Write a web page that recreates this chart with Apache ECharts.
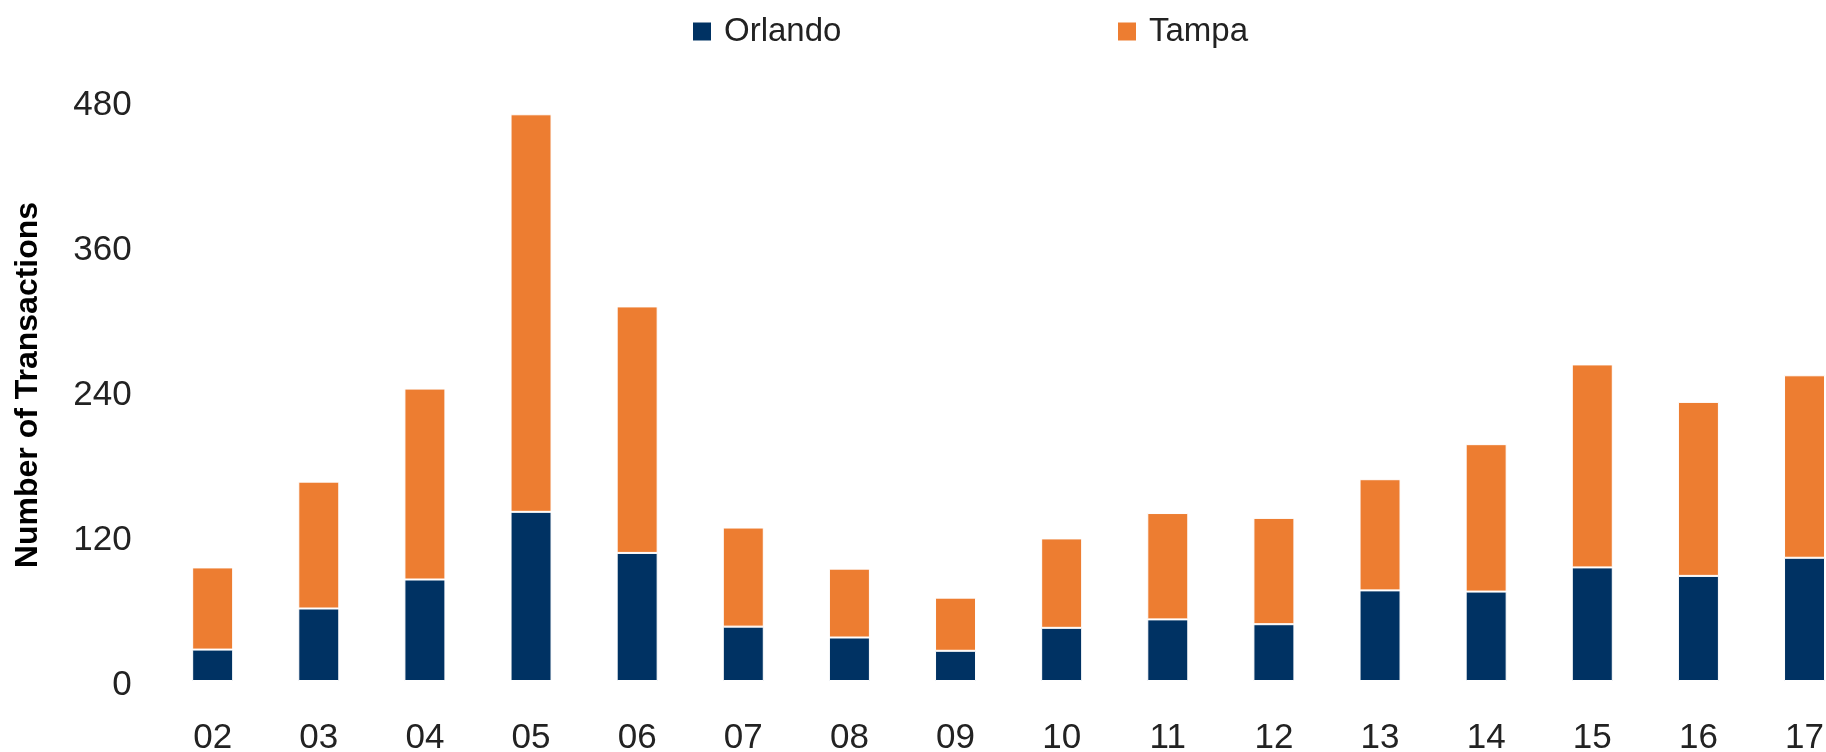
<!DOCTYPE html>
<html>
<head>
<meta charset="utf-8">
<script src="https://cdn.jsdelivr.net/npm/echarts@6/dist/echarts.min.js"></script>
<style>
html,body{margin:0;padding:0;background:#fff;}
#chart{width:1826px;height:752px;}
</style>
</head>
<body>
<div id="chart"></div>
<script>
const categories = ['02','03','04','05','06','07','08','09','10','11','12','13','14','15','16','17'];
const orlando = [26, 60, 84, 140, 106, 45, 36, 25, 44, 51, 47, 75, 74, 94, 87, 102];
const tampa   = [68, 105, 158, 329, 204, 82, 57, 44, 74, 88, 88, 92, 122, 168, 144, 151];
const yTicks = [0, 120, 240, 360, 480];

const FONT = '"Liberation Sans", Arial, Helvetica, sans-serif';
const TEXT = '#222222';
const BLUE = '#003263';
const ORANGE = '#ED7D31';

const chart = echarts.init(document.getElementById('chart'));
chart.setOption({
  animation: false,
  backgroundColor: '#ffffff',
  textStyle: { fontFamily: FONT },
  legend: [
    {
      data: ['Orlando'], left: 691, top: 15, padding: 0,
      icon: 'rect', itemWidth: 20, itemHeight: 20,
      textStyle: { fontSize: 33, color: TEXT, fontFamily: FONT, padding: [0,0,0,7] }
    },
    {
      data: ['Tampa'], left: 1116, top: 15, padding: 0,
      icon: 'rect', itemWidth: 20, itemHeight: 20,
      textStyle: { fontSize: 33, color: TEXT, fontFamily: FONT, padding: [0,0,0,7] }
    }
  ],
  grid: { left: 159.6, width: 1698, top: 101, bottom: 71, containLabel: false, outerBoundsMode: 'none' },
  xAxis: {
    type: 'category',
    data: categories,
    axisLine: { show: false },
    axisTick: { show: false },
    axisLabel: { fontSize: 35, color: TEXT, fontFamily: FONT, margin: 39.5 }
  },
  yAxis: {
    type: 'value',
    min: yTicks[0],
    max: yTicks[yTicks.length - 1],
    interval: yTicks[1] - yTicks[0],
    name: 'Number of Transactions',
    nameLocation: 'middle',
    nameGap: 115.5,
    nameTextStyle: { fontSize: 32, fontWeight: 'bold', color: '#000', fontFamily: FONT, padding: [0, 0, 0, 12] },
    axisLine: { show: false },
    axisTick: { show: false },
    splitLine: { show: false },
    axisLabel: { fontSize: 35, color: TEXT, fontFamily: FONT, margin: 28, verticalAlign: 'top', lineHeight: 8 }
  },
  series: [
    {
      name: 'Orlando', type: 'bar', stack: 'total', data: orlando,
      barWidth: 41,
      itemStyle: { color: BLUE, borderColor: '#ffffff', borderWidth: 1 }
    },
    {
      name: 'Tampa', type: 'bar', stack: 'total', data: tampa,
      barWidth: 41,
      itemStyle: { color: ORANGE, borderColor: '#ffffff', borderWidth: 1 }
    }
  ]
});
</script>
</body>
</html>
